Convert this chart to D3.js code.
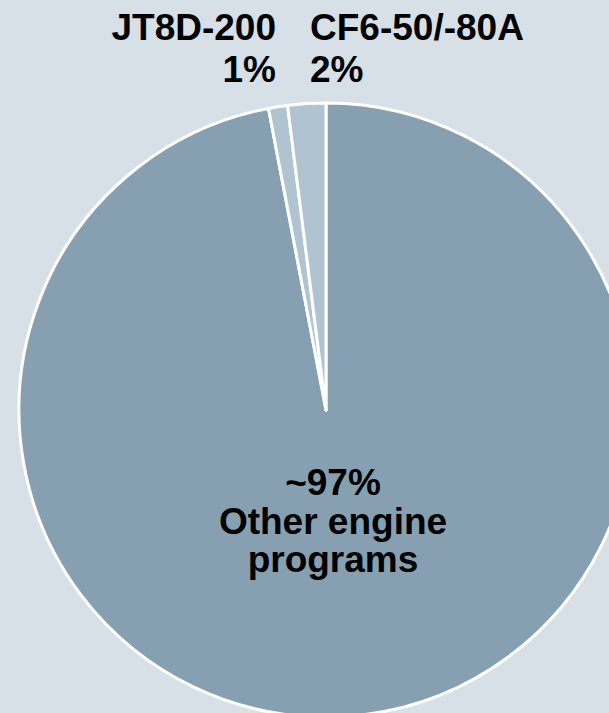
<!DOCTYPE html>
<html>
<head>
<meta charset="utf-8">
<script src="https://cdn.jsdelivr.net/npm/d3@7"></script>
<style>
  html, body { margin: 0; padding: 0; background: #d8e0e7; }
  svg { display: block; }
  text { font-family: Arial, "Liberation Sans", sans-serif; font-weight: bold; fill: #000; }
</style>
</head>
<body>
<div id="chart"></div>
<script>
// Slice data, clockwise from 12 o'clock
const names = ["Other engine programs", "JT8D-200", "CF6-50/-80A"];
const shares = [97, 1, 2];
const shareLabels = ["~97%", "1%", "2%"];
const colors = ["#87a0b1", "#b0c3d0", "#b0c3d0"];

const W = 609, H = 713;
const cx = 326, cy = 410, radius = 307;

const svg = d3.select("#chart").append("svg")
  .attr("width", W)
  .attr("height", H);

svg.append("rect")
  .attr("width", W)
  .attr("height", H)
  .attr("fill", "#d8e0e7");

const slices = names.map((n, i) => ({ name: n, value: shares[i], label: shareLabels[i], color: colors[i] }));

const pie = d3.pie().sort(null).value(d => d.value);
const arc = d3.arc().innerRadius(0).outerRadius(radius);

const g = svg.append("g").attr("transform", `translate(${cx},${cy})`);

g.selectAll("path")
  .data(pie(slices))
  .join("path")
  .attr("d", arc)
  .attr("fill", d => d.data.color)
  .attr("stroke", "#fff")
  .attr("stroke-width", 3)
  .attr("stroke-linejoin", "round");

// Inside label for the large slice
const inner = g.append("text")
  .attr("text-anchor", "middle")
  .attr("font-size", "37px");
[[slices[0].label, 85], ["Other engine", 124], ["programs", 162]].forEach(([t, y]) => {
  inner.append("tspan").attr("x", 7).attr("y", y).text(t);
});

// Outside labels for the two small slices
const outer = [
  { d: slices[1], x: -50, anchor: "end" },
  { d: slices[2], x: -16, anchor: "start" }
];
outer.forEach(o => {
  const t = g.append("text")
    .attr("text-anchor", o.anchor)
    .attr("font-size", "37px");
  t.append("tspan").attr("x", o.x).attr("y", -370).text(o.d.name);
  t.append("tspan").attr("x", o.x).attr("y", -328).text(o.d.label);
});
</script>
</body>
</html>
